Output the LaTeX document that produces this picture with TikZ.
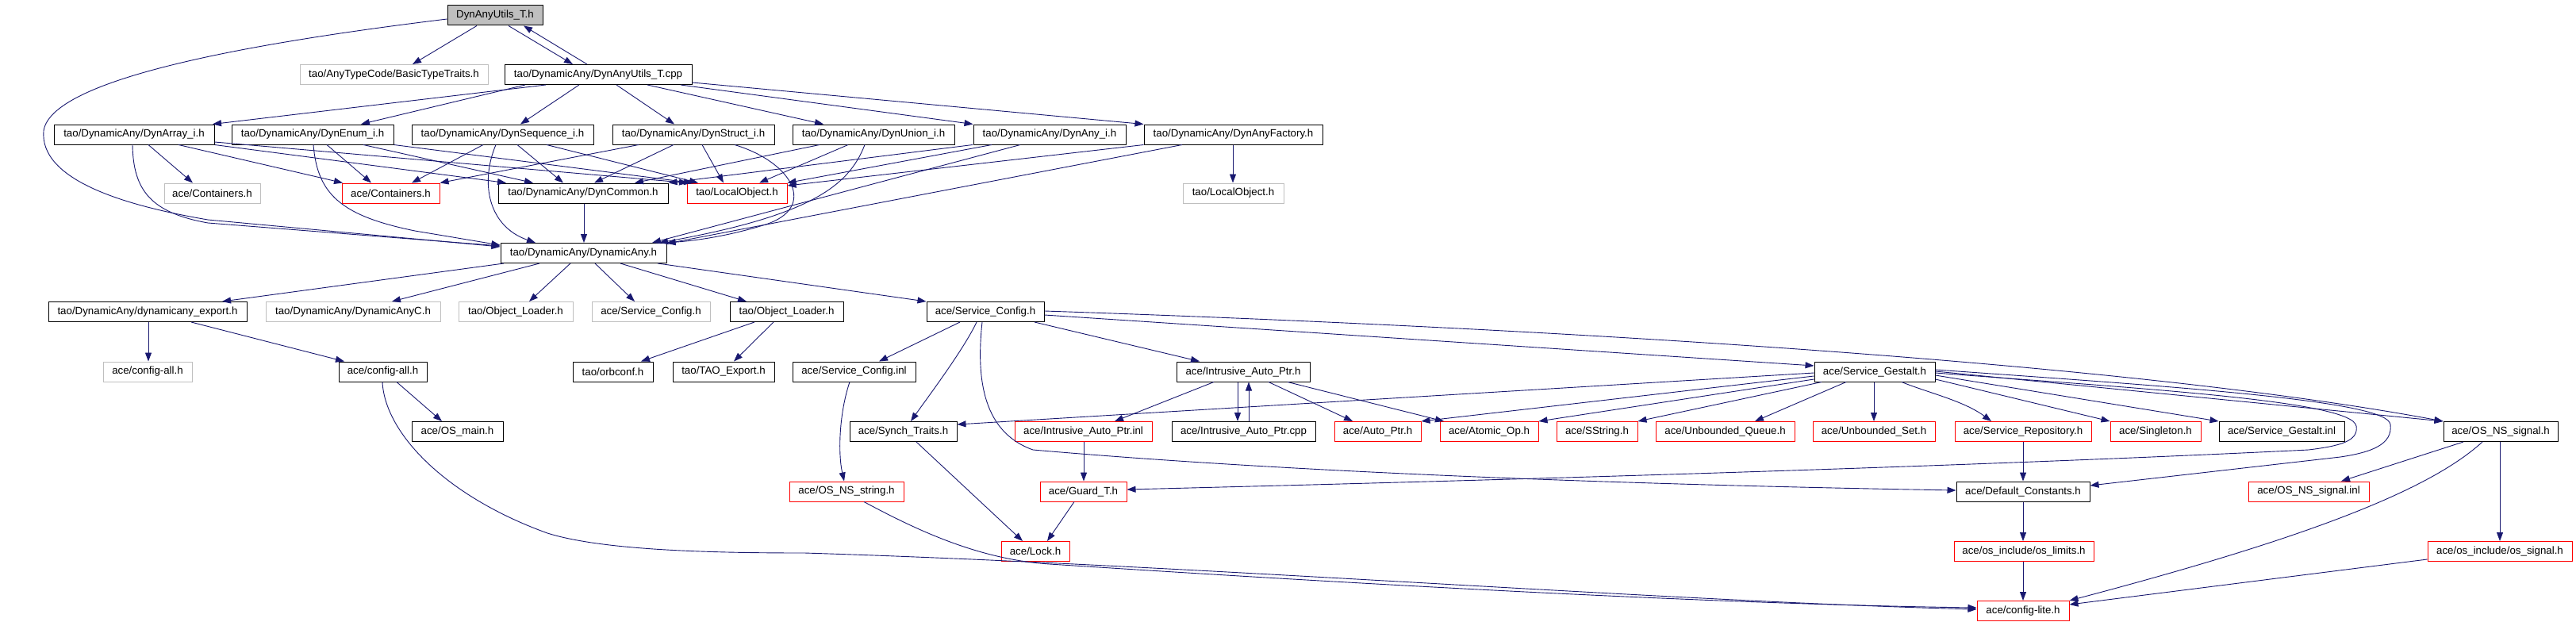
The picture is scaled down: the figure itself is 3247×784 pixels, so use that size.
\documentclass[tikz,border=0pt]{standalone}
\usepackage{fontspec}
\setmainfont{Liberation Sans}
\usetikzlibrary{arrows.meta}
\definecolor{edgec}{HTML}{191970}
\definecolor{grayc}{HTML}{BFBFBF}
\definecolor{redc}{HTML}{FF0000}
\begin{document}
\begin{tikzpicture}[x=1pt,y=-1pt,
  box/.style={draw, line width=1pt, inner sep=0pt, minimum height=25pt, font=\fontsize{13.3}{15}\selectfont, text=black},
  blk/.style={box, draw=black},
  grn/.style={box, draw=grayc},
  red/.style={box, draw=redc},
  top/.style={box, draw=black, fill=grayc},
  e/.style={draw=edgec, line width=0.9pt, -{Triangle[length=11pt,width=8pt]}}]
\useasboundingbox (0,0) rectangle (3247,784);
% Row A
\node[top, minimum width=120pt] (n0) at (624,19.5) {DynAnyUtils\_T.h};
% Row B
\node[grn, minimum width=237pt] (basic) at (496.5,94) {tao/AnyTypeCode/BasicTypeTraits.h};
\node[blk, minimum width=236pt] (cpp) at (754,94) {tao/DynamicAny/DynAnyUtils\_T.cpp};
% Row C
\node[blk, minimum width=202pt] (arr) at (169,169.5) {tao/DynamicAny/DynArray\_i.h};
\node[blk, minimum width=204pt] (enm) at (394,169.5) {tao/DynamicAny/DynEnum\_i.h};
\node[blk, minimum width=229pt] (seq) at (633.5,169.5) {tao/DynamicAny/DynSequence\_i.h};
\node[blk, minimum width=204pt] (str) at (874,169.5) {tao/DynamicAny/DynStruct\_i.h};
\node[blk, minimum width=204pt] (uni) at (1101,169.5) {tao/DynamicAny/DynUnion\_i.h};
\node[blk, minimum width=192pt] (dany) at (1323,169.5) {tao/DynamicAny/DynAny\_i.h};
\node[blk, minimum width=225pt] (fac) at (1554.5,169.5) {tao/DynamicAny/DynAnyFactory.h};
% Row D
\node[grn, minimum width=121pt] (contg) at (267.5,243.5) {ace/Containers.h};
\node[red, minimum width=123pt] (contr) at (492.5,243.5) {ace/Containers.h};
\node[blk, minimum width=214pt] (com) at (735,243.5) {tao/DynamicAny/DynCommon.h};
\node[red, minimum width=126pt] (locr) at (929,243.5) {tao/LocalObject.h};
\node[grn, minimum width=127pt] (locg) at (1554.5,243.5) {tao/LocalObject.h};
% Row E
\node[blk, minimum width=209pt] (da) at (735.5,319) {tao/DynamicAny/DynamicAny.h};
% Row F
\node[blk, minimum width=250pt] (exp) at (186,393) {tao/DynamicAny/dynamicany\_export.h};
\node[grn, minimum width=220pt] (dac) at (445,393) {tao/DynamicAny/DynamicAnyC.h};
\node[grn, minimum width=144pt] (olg) at (650,393) {tao/Object\_Loader.h};
\node[grn, minimum width=149pt] (scg) at (820.5,393) {ace/Service\_Config.h};
\node[blk, minimum width=143pt] (ol) at (991.5,393) {tao/Object\_Loader.h};
\node[blk, minimum width=148pt] (sc) at (1242,393) {ace/Service\_Config.h};
% Row G
\node[grn, minimum width=112pt] (cag) at (186,468.5) {ace/config-all.h};
\node[blk, minimum width=111pt] (ca) at (482.5,468.5) {ace/config-all.h};
\node[blk, minimum width=101pt] (orb) at (772.5,468.5) {tao/orbconf.h};
\node[blk, minimum width=128pt] (tao) at (912,468.5) {tao/TAO\_Export.h};
\node[blk, minimum width=155pt] (sci) at (1076.5,468.5) {ace/Service\_Config.inl};
\node[blk, minimum width=168pt] (iap) at (1567,468.5) {ace/Intrusive\_Auto\_Ptr.h};
\node[blk, minimum width=152pt] (sg) at (2363,468.5) {ace/Service\_Gestalt.h};
% Row H
\node[blk, minimum width=115pt] (osm) at (576.5,544) {ace/OS\_main.h};
\node[blk, minimum width=135pt] (syn) at (1138.5,544) {ace/Synch\_Traits.h};
\node[red, minimum width=173pt] (iapi) at (1365.5,544) {ace/Intrusive\_Auto\_Ptr.inl};
\node[blk, minimum width=181pt] (iapc) at (1567.5,544) {ace/Intrusive\_Auto\_Ptr.cpp};
\node[red, minimum width=109pt] (aut) at (1736.5,544) {ace/Auto\_Ptr.h};
\node[red, minimum width=124pt] (ato) at (1877,544) {ace/Atomic\_Op.h};
\node[red, minimum width=102pt] (sst) at (2013,544) {ace/SString.h};
\node[red, minimum width=175pt] (ubq) at (2174.5,544) {ace/Unbounded\_Queue.h};
\node[red, minimum width=154pt] (ubs) at (2362,544) {ace/Unbounded\_Set.h};
\node[red, minimum width=172pt] (srep) at (2550,544) {ace/Service\_Repository.h};
\node[red, minimum width=114pt] (sing) at (2717,544) {ace/Singleton.h};
\node[blk, minimum width=158pt] (sgi) at (2876,544) {ace/Service\_Gestalt.inl};
\node[blk, minimum width=144pt] (nss) at (3152,544) {ace/OS\_NS\_signal.h};
% Row I
\node[red, minimum width=144pt] (nsstr) at (1067,619.5) {ace/OS\_NS\_string.h};
\node[red, minimum width=109pt] (grd) at (1365.5,619.5) {ace/Guard\_T.h};
\node[blk, minimum width=168pt] (dc) at (2550,619.5) {ace/Default\_Constants.h};
\node[red, minimum width=152pt] (nssi) at (2910,619.5) {ace/OS\_NS\_signal.inl};
% Row J
\node[red, minimum width=86pt] (lock) at (1305,695) {ace/Lock.h};
\node[red, minimum width=176pt] (osl) at (2551,695) {ace/os\_include/os\_limits.h};
\node[red, minimum width=182pt] (oss) at (3151,695) {ace/os\_include/os\_signal.h};
% Row K
\node[red, minimum width=116pt] (cl) at (2550,770) {ace/config-lite.h};

% ---- edges ----
\draw[e] (n0.south -| 601,0) -- (basic.north -| 520,0);
\draw[e] (n0.south -| 641,0) -- (cpp.north -| 722,0);
\draw[e] (cpp.north -| 740,0) -- (n0.south -| 660,0);
\draw[e] (n0.west |- 0,24) .. controls (350,50) and (65,95) .. (55,165) .. controls (50,225) and (150,258) .. (262,277) -- (da.west |- 0,311);
\draw[e] (cpp.south -| 688,0) -- (arr.north -| 268,0);
\draw[e] (cpp.south -| 662,0) -- (enm.north -| 455,0);
\draw[e] (cpp.south -| 730,0) -- (seq.north -| 656,0);
\draw[e] (cpp.south -| 777,0) -- (str.north -| 850,0);
\draw[e] (cpp.south -| 816,0) -- (uni.north -| 1038,0);
\draw[e] (cpp.south -| 858,0) -- (dany.north west);
\draw[e] (cpp.east |- 0,104) -- (fac.north west);
% DynArray
\draw[e] (arr.south -| 187,0) -- (contg.north -| 243,0);
\draw[e] (arr.south -| 225,0) -- (contr.north -| 432,0);
\draw[e] (arr.south east) -- (com.north -| 638,0);
\draw[e] (arr.east |- 0,179) -- (locr.north -| 867,0);
\draw[e] (arr.south -| 167,0) .. controls (168,240) and (190,268) .. (262,281) -- (da.west |- 0,310);
% DynEnum
\draw[e] (enm.south -| 412,0) -- (contr.north -| 468,0);
\draw[e] (enm.south -| 458,0) -- (com.north -| 672,0);
\draw[e] (enm.south east) -- (locr.north -| 873,0);
\draw[e] (enm.south -| 395,0) .. controls (400,245) and (430,272) .. (523,291) -- (da.west |- 0,309);
% DynSequence
\draw[e] (seq.south -| 609,0) -- (contr.north -| 519,0);
\draw[e] (seq.south -| 652,0) -- (com.north -| 710,0);
\draw[e] (seq.south -| 689,0) -- (locr.north -| 880,0);
\draw[e] (seq.south -| 625,0) .. controls (605,230) and (615,285) .. (da.north -| 675,0);
% DynStruct
\draw[e] (str.south -| 805,0) -- (contr.north east);
\draw[e] (str.south -| 849,0) -- (com.north -| 749,0);
\draw[e] (str.south -| 885,0) -- (locr.north -| 912,0);
\draw[e] (str.south -| 926,0) .. controls (1000,205) and (1030,262) .. (965,283) .. controls (920,297) and (880,303) .. (da.north east);
% DynUnion
\draw[e] (uni.south -| 1033,0) -- (com.north -| 800,0);
\draw[e] (uni.south -| 1069,0) -- (locr.north -| 957,0);
\draw[e] (uni.south -| 1090,0) .. controls (1070,235) and (1020,272) .. (da.north -| 831,0);
% DynAny_i
\draw[e] (dany.south -| 1226,0) -- (com.north east);
\draw[e] (dany.south -| 1250,0) -- (locr.north east);
\draw[e] (dany.south -| 1286,0) -- (da.north -| 822,0);
% DynAnyFactory
\draw[e] (fac.south west) -- (locr.east |- 0,234);
\draw[e] (fac.south -| 1554,0) -- (locg.north -| 1554,0);
\draw[e] (fac.south -| 1490,0) -- (da.east |- 0,307);
\draw[e] (com.south -| 736,0) -- (da.north -| 736,0);
% DynamicAny.h
\draw[e] (da.south -| 635,0) -- (exp.north -| 280,0);
\draw[e] (da.south -| 680,0) -- (dac.north -| 494,0);
\draw[e] (da.south -| 719,0) -- (olg.north -| 667,0);
\draw[e] (da.south -| 750,0) -- (scg.north -| 800,0);
\draw[e] (da.south -| 782,0) -- (ol.north -| 941,0);
\draw[e] (da.south -| 829,0) -- (sc.north west);
% Row F -> G
\draw[e] (exp.south -| 187,0) -- (cag.north -| 187,0);
\draw[e] (exp.south -| 241,0) -- (ca.north -| 434,0);
\draw[e] (ol.south -| 951,0) -- (orb.north -| 808,0);
\draw[e] (ol.south -| 975,0) -- (tao.north -| 925,0);
\draw[e] (sc.south -| 1210,0) -- (sci.north -| 1108,0);
\draw[e] (sc.south -| 1231,0) .. controls (1215,440) and (1170,500) .. (syn.north -| 1148,0);
\draw[e] (sc.south -| 1238,0) .. controls (1230,480) and (1240,545) .. (1302,567) .. controls (1600,593) and (2000,610) .. (dc.west |- 0,618);
\draw[e] (sc.south -| 1304,0) -- (iap.north -| 1512,0);
\draw[e] (sc.east |- 0,397) -- (sg.west |- 0,461);
\draw[e] (sc.east |- 0,392) .. controls (2000,415) and (2700,460) .. (nss.north west);
% config-all etc.
\draw[e] (ca.south -| 500,0) -- (osm.north -| 557,0);
\draw[e] (ca.south -| 482,0) .. controls (485,545) and (560,625) .. (690,672) .. controls (760,694) and (900,697) .. (1014,697) .. controls (1500,712) and (2100,758) .. (cl.west |- 0,768);
\draw[e] (sci.south -| 1071,0) .. controls (1058,520) and (1056,570) .. (nsstr.north -| 1064,0);
\draw[e] (nsstr.south -| 1089,0) .. controls (1150,665) and (1230,705) .. (1323,711) .. controls (1800,742) and (2200,762) .. (cl.west |- 0,766);
\draw[e] (syn.south -| 1155,0) -- (lock.north -| 1289,0);
\draw[e] (iap.south -| 1530,0) -- (iapi.north -| 1405,0);
\draw[e] (iap.south -| 1560,0) -- (iapc.north -| 1560,0);
\draw[e] (iapc.north -| 1574,0) -- (iap.south -| 1574,0);
\draw[e] (iap.south -| 1599,0) -- (aut.north -| 1705,0);
\draw[e] (iap.south -| 1623,0) -- (ato.north -| 1820,0);
\draw[e] (iapi.south -| 1366,0) -- (grd.north -| 1366,0);
\draw[e] (grd.south -| 1354,0) -- (lock.north -| 1320,0);
% Service_Gestalt
\draw[e] (sg.west |- 0,470) -- (syn.east |- 0,535);
\draw[e] (sg.west |- 0,474) -- (aut.north east);
\draw[e] (sg.west |- 0,478) -- (ato.north east);
\draw[e] (sg.south -| 2296,0) -- (sst.north east);
\draw[e] (sg.south -| 2327,0) -- (ubq.north -| 2212,0);
\draw[e] (sg.south -| 2362,0) -- (ubs.north -| 2362,0);
\draw[e] (sg.south -| 2397,0) .. controls (2430,495) and (2475,505) .. (srep.north -| 2510,0);
\draw[e] (sg.east |- 0,478) -- (sing.north west);
\draw[e] (sg.east |- 0,473) -- (sgi.north west);
\draw[e] (sg.east |- 0,468) -- (nss.north west);
\draw[e] (sg.east |- 0,470) .. controls (2700,490) and (2965,505) .. (2970,537) .. controls (2973,556) and (2950,562) .. (2910,567) .. controls (2400,592) and (1700,610) .. (grd.east |- 0,617);
\draw[e] (sg.east |- 0,466) .. controls (2750,488) and (3010,505) .. (3013,535) .. controls (3016,560) and (2990,570) .. (2950,576) -- (dc.east |- 0,612);
% bottom right
\draw[e] (srep.south -| 2550,0) -- (dc.north -| 2550,0);
\draw[e] (dc.south -| 2550,0) -- (osl.north -| 2550,0);
\draw[e] (osl.south -| 2550,0) -- (cl.north -| 2550,0);
\draw[e] (nss.south -| 3105,0) -- (nssi.north -| 2951,0);
\draw[e] (nss.south -| 3129,0) .. controls (3060,620) and (2900,680) .. (cl.north east);
\draw[e] (nss.south -| 3151,0) -- (oss.north -| 3151,0);
\draw[e] (oss.west |- 0,705) -- (cl.east |- 0,762);
\end{tikzpicture}
\end{document}
